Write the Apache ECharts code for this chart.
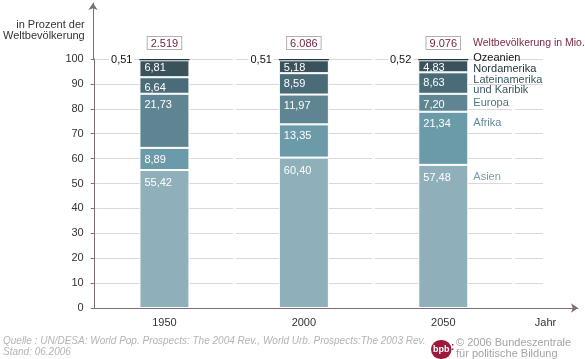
<!DOCTYPE html>
<html><head><meta charset="utf-8">
<script src="https://cdn.jsdelivr.net/npm/echarts@6/dist/echarts.min.js"></script>
<style>html,body{margin:0;padding:0;background:#fff}#c{width:585px;height:359px}</style>
</head><body><div id="c"></div>
<script>
// ---- data ----
const years = ['1950', '2000', '2050'];
const totalsMio = ['2.519', '6.086', '9.076'];
const asien = [55.42, 60.40, 57.48];
const afrika = [8.89, 13.35, 21.34];
const europa = [21.73, 11.97, 7.20];
const lateinamerika = [6.64, 8.59, 8.63];
const nordamerika = [6.81, 5.18, 4.83];
const ozeanien = [0.51, 0.51, 0.52];
const yTickValues = [0, 10, 20, 30, 40, 50, 60, 70, 80, 90, 100];
const axisEndLabel = 'Jahr';

// ---- styles ----
const FONT = 'Liberation Sans';
const AX = '#7e6d74';
const GRID = '#d9d9d9';
const regions = [
  { name: 'Asien', data: asien, color: '#8fb0bb', legendColor: '#7a9ca8', dy: 7, ldy: 7 },
  { name: 'Afrika', data: afrika, color: '#6b9ba9', legendColor: '#5f8c9a', dy: 6, ldy: 6 },
  { name: 'Europa', data: europa, color: '#5e8591', legendColor: '#4e7482', dy: 5, ldy: 4 },
  { name: 'Lateinamerika\nund Karibik', data: lateinamerika, color: '#4a6c78', legendColor: '#3a5661', dy: 5, ldy: 2 },
  { name: 'Nordamerika', data: nordamerika, color: '#39525c', legendColor: '#22343b', dy: 2, ldy: 3 },
  { name: 'Ozeanien', data: ozeanien, color: '#213439', legendColor: '#111', dy: 0, ldy: 0 }
];
const fmt = v => v.toFixed(2).replace('.', ',');
const last = years.length - 1;

const series = [];
regions.forEach((r, k) => {
  const isTop = k === regions.length - 1;
  series.push({
    type: 'bar', name: r.name, stack: 'pct', data: r.data, barWidth: 50, barGap: '-100%',
    itemStyle: isTop ? { color: r.color } : { color: r.color, borderColor: '#fff', borderWidth: 1 },
    label: isTop ? {
      show: true, position: 'left', distance: 5, formatter: p => fmt(p.value),
      color: '#111', fontSize: 11, fontFamily: FONT, backgroundColor: '#fff', padding: [0, 2]
    } : {
      show: true, position: [5, r.dy], align: 'left', verticalAlign: 'top',
      formatter: p => fmt(p.value), color: '#fff', fontSize: 11, fontFamily: FONT, lineHeight: 12
    },
    silent: true
  });
});
// region names next to the last bar
regions.forEach((r, k) => {
  const isTop = k === regions.length - 1;
  series.push({
    type: 'bar', name: 'lbl_' + k, stack: 'names', barWidth: 50, barGap: '-100%', silent: true,
    data: r.data.map((v, i) => i === last ? v : '-'),
    itemStyle: { color: 'rgba(0,0,0,0)' },
    label: isTop ? {
      show: true, position: 'right', distance: 5, offset: [0, -2], formatter: r.name,
      color: r.legendColor, fontSize: 11, fontFamily: FONT
    } : {
      show: true, position: ['100%', r.ldy], offset: [5, 0], align: 'left', verticalAlign: 'top',
      formatter: r.name, color: r.legendColor, fontSize: 11, fontFamily: FONT, lineHeight: 10.5
    }
  });
});
// totals boxes
const sums = years.map((_, i) => regions.reduce((s, r) => s + r.data[i], 0));
series.push({
  type: 'bar', name: 'Weltbevölkerung in Mio.', barWidth: 50, barGap: '-100%', silent: true,
  data: sums, itemStyle: { color: 'rgba(0,0,0,0)' },
  label: {
    show: true, position: 'top', distance: 10, formatter: p => totalsMio[p.dataIndex],
    color: '#6e1f3f', fontSize: 11, fontFamily: FONT, backgroundColor: '#fff',
    borderColor: '#b9adb2', borderWidth: 1, padding: [1, 3, 0, 3]
  }
});

const chart = echarts.init(document.getElementById('c'), null, { renderer: 'canvas' });
chart.setOption({
  animation: false,
  textStyle: { fontFamily: FONT },
  legend: {
    data: [{ name: 'Weltbevölkerung in Mio.', icon: 'none' }], left: 468, top: 36,
    itemWidth: 0, itemHeight: 14, selectedMode: false, padding: 0,
    textStyle: { color: '#7b2a4a', fontSize: 10.5, fontFamily: FONT }
  },
  title: [
    {
      text: 'Quelle : UN/DESA: World Pop. Prospects: The 2004 Rev., World Urb. Prospects:The 2003 Rev.\nStand: 06.2006',
      left: 3, top: 336, padding: 0,
      textStyle: { fontSize: 10, fontStyle: 'italic', fontWeight: 'normal', color: '#b4b4b4', lineHeight: 11, fontFamily: FONT }
    },
    {
      text: 'bpb', left: 431, top: 340, padding: [5, 2, 5, 2], backgroundColor: '#9c1b3c', borderRadius: 10,
      textStyle: { fontSize: 9, fontWeight: 'bold', color: '#fff', fontFamily: FONT, lineHeight: 9 }
    },
    {
      text: ':', left: 451, top: 342, padding: 0,
      textStyle: { fontSize: 10, fontWeight: 'bold', color: '#9c1b3c', fontFamily: FONT }
    },
    {
      text: '© 2006 Bundeszentrale\nfür politische Bildung', left: 456, top: 337, padding: 0,
      textStyle: { fontSize: 11, fontWeight: 'normal', color: '#a4a4a4', lineHeight: 11, fontFamily: FONT }
    }
  ],
  grid: [
    { left: 93, right: 72, top: 59, bottom: 51 },
    { left: 93, width: 1, top: 3, height: 56 },
    { left: 513, right: 7, top: 59, bottom: 51 },
    { left: 515, width: 28, top: 59, bottom: 51 }
  ],
  xAxis: [
    {
      type: 'category', gridIndex: 0, data: years,
      axisLine: { lineStyle: { color: AX } },
      axisTick: { length: 4, lineStyle: { color: AX } },
      axisLabel: { color: '#333', fontSize: 11, margin: 9, fontFamily: FONT },
      splitLine: { show: true, interval: i => i > 0, lineStyle: { color: '#fff', width: 3 } }
    },
    { type: 'value', gridIndex: 1, show: false, min: 0, max: 1 },
    {
      type: 'category', gridIndex: 2, data: [axisEndLabel],
      axisLine: { symbol: ['none', 'arrow'], symbolSize: [7, 7], lineStyle: { color: AX } },
      axisTick: { show: false },
      axisLabel: { color: '#333', fontSize: 11, margin: 9, fontFamily: FONT },
      splitLine: { show: false }
    },
    { type: 'value', gridIndex: 3, show: false, min: 0, max: 1 }
  ],
  yAxis: [
    {
      type: 'value', gridIndex: 0, min: 0, max: 100, interval: 10,
      name: 'in Prozent der\nWeltbevölkerung', nameLocation: 'end', nameGap: 18,
      nameTextStyle: { align: 'right', verticalAlign: 'bottom', color: '#333', fontSize: 11, lineHeight: 11, padding: [0, 10, 0, 0], fontFamily: FONT },
      axisLine: { show: true, lineStyle: { color: AX } },
      axisTick: { show: true, length: 4, lineStyle: { color: AX } },
      axisLabel: { color: '#333', fontSize: 11, margin: 11, fontFamily: FONT,
        formatter: v => yTickValues.includes(v) ? String(v) : '' },
      splitLine: { show: true, lineStyle: { color: GRID } }
    },
    {
      type: 'value', gridIndex: 1, min: 0, max: 1,
      axisLine: { show: true, symbol: ['none', 'arrow'], symbolSize: [7, 7], lineStyle: { color: AX } },
      axisTick: { show: false }, axisLabel: { show: false }, splitLine: { show: false }
    },
    { type: 'value', gridIndex: 2, min: 0, max: 100, show: false },
    {
      type: 'value', gridIndex: 3, min: 0, max: 100, interval: 10,
      axisLine: { show: false }, axisTick: { show: false }, axisLabel: { show: false },
      splitLine: { show: true, lineStyle: { color: GRID } }
    }
  ],
  series: series
});
</script></body></html>
